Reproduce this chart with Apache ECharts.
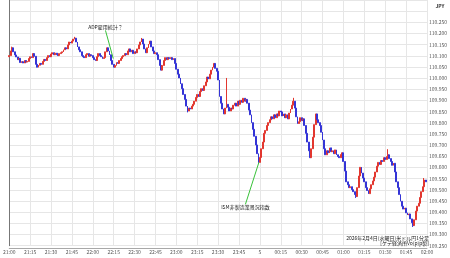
<!DOCTYPE html>
<html><head><meta charset="utf-8">
<script src="https://cdn.jsdelivr.net/npm/echarts@6/dist/echarts.min.js"></script>
<style>html,body{margin:0;padding:0;background:#fff}#c{width:450px;height:258px}</style>
</head><body><div id="c"></div>
<script>
// 1-minute USD/JPY candles, 21:00 -> 01:59 (minute index from 21:00)
const firstOpen = 110.096;
const closes = [
110.101,110.122,110.136,110.118,110.104,110.095,110.083,110.089,110.070,110.074,
110.068,110.079,110.072,110.075,110.088,110.096,110.092,110.110,110.098,110.062,
110.049,110.058,110.066,110.062,110.075,110.084,110.079,110.092,110.101,110.096,
110.108,110.114,110.105,110.112,110.105,110.101,110.110,110.114,110.118,110.127,
110.136,110.131,110.149,110.162,110.157,110.166,110.175,110.179,110.162,110.140,
110.127,110.118,110.101,110.096,110.092,110.105,110.110,110.098,110.105,110.101,
110.092,110.083,110.079,110.096,110.110,110.101,110.096,110.088,110.092,110.118,
110.136,110.122,110.105,110.079,110.062,110.049,110.057,110.070,110.066,110.079,
110.088,110.096,110.101,110.110,110.105,110.122,110.131,110.118,110.125,110.110,
110.118,110.114,110.131,110.149,110.162,110.175,110.153,110.131,110.114,110.136,
110.153,110.166,110.140,110.122,110.110,110.114,110.105,110.083,110.057,110.036,
110.057,110.079,110.092,110.083,110.092,110.088,110.092,110.083,110.088,110.066,
110.040,110.018,110.001,109.975,109.953,109.927,109.905,109.875,109.853,109.866,
109.862,109.875,109.883,109.897,109.914,109.927,109.918,109.940,109.953,109.945,
109.966,109.983,110.005,109.997,110.018,110.036,110.049,110.066,110.044,110.031,
109.992,109.918,109.888,109.862,109.840,109.866,109.883,109.870,109.853,109.866,
109.862,109.879,109.888,109.875,109.897,109.883,109.901,109.892,109.910,109.897,
109.905,109.888,109.857,109.836,109.801,109.771,109.740,109.701,109.662,109.623,
109.645,109.684,109.714,109.753,109.766,109.788,109.801,109.814,109.827,109.818,
109.836,109.823,109.840,109.831,109.853,109.849,109.831,109.840,109.823,109.836,
109.818,109.844,109.862,109.879,109.897,109.866,109.827,109.797,109.805,109.823,
109.810,109.818,109.788,109.753,109.714,109.675,109.644,109.684,109.736,109.792,
109.840,109.814,109.801,109.788,109.758,109.723,109.684,109.657,109.675,109.666,
109.688,109.671,109.675,109.662,109.679,109.657,109.649,109.644,109.658,109.666,
109.627,109.584,109.536,109.523,109.510,109.514,109.501,109.492,109.479,109.470,
109.510,109.562,109.601,109.575,109.553,109.536,109.510,109.497,109.483,109.505,
109.523,109.540,109.557,109.580,109.606,109.623,109.614,109.631,109.627,109.644,
109.636,109.649,109.657,109.640,109.627,109.610,109.619,109.580,109.536,109.510,
109.479,109.449,109.427,109.414,109.418,109.397,109.388,109.392,109.370,109.353,
109.340,109.366,109.405,109.427,109.440,109.466,109.492,109.514,109.544,109.536
];
// notable wick extremes (minute index -> price)
const wickHigh = {2:110.141, 47:110.185, 95:110.180, 156:110.001, 204:109.912, 272:109.682, 298:109.553};
const wickLow = {128:109.847, 179:109.616, 249:109.464, 290:109.334};

const xTickLabels = ['21:00','21:15','21:30','21:45','22:00','22:15','22:30','22:45','23:00','23:15','23:30','23:45','5','00:15','00:30','00:45','01:00','01:15','01:30','01:45','02:00'];
const yTickLabels = ['109.250','109.300','109.350','109.400','109.450','109.500','109.550','109.600','109.650','109.700','109.750','109.800','109.850','109.900','109.950','110.000','110.050','110.100','110.150','110.200','110.250'];

const annotations = [
  {text:'ADP雇用統計？', from:[69.1,110.214], to:[74.7,110.088], textPos:'above'},
  {text:'ISM非製造業景況指数', from:[169.6,109.435], to:[179.3,109.623], textPos:'below'}
];
const footerLines = ['2026年2月4日(水曜日)米ドル円1分足','[ケデ経済所Vo(p)p製]'];

const candles = closes.map((c, i) => {
  const o = i === 0 ? firstOpen : closes[i - 1];
  let hi = Math.max(o, c), lo = Math.min(o, c);
  if (wickHigh[i] && wickHigh[i] > hi) hi = wickHigh[i];
  if (wickLow[i] && wickLow[i] < lo) lo = wickLow[i];
  return [i, o, c, lo, hi];
});

const chart = echarts.init(document.getElementById('c'), null, {renderer:'canvas'});
const FONT = '"Noto Sans CJK JP","Noto Sans",sans-serif';
chart.setOption({
  animation: false,
  backgroundColor: '#fff',
  grid: {left: 1, right: 19, top: -7.3, bottom: 12.3, containLabel: false},
  xAxis: {
    type: 'value', min: 0, max: 300, interval: 15, offset: 2.3,
    axisLine: {show: true, lineStyle: {color: '#a8a8a8', width: 1}},
    axisTick: {show: false},
    splitLine: {show: true, lineStyle: {color: '#e6e6e6', width: 1}},
    axisLabel: {
      fontSize: 5, color: '#555', margin: 1.5, fontFamily: FONT,
      showMinLabel: true, showMaxLabel: true,
      formatter: v => xTickLabels[Math.round(v / 15)] || ''
    }
  },
  yAxis: {
    type: 'value', position: 'right', min: 109.25, max: 110.35, interval: 0.05,
    axisLine: {show: true, lineStyle: {color: '#777', width: 1}},
    axisTick: {show: false},
    splitLine: {show: true, lineStyle: {color: '#e6e6e6', width: 1}},
    axisLabel: {
      fontSize: 5, color: '#555', margin: 2, fontFamily: FONT,
      formatter: v => {
        const idx = Math.round((v - 109.25) / 0.05);
        return (idx >= 0 && idx < yTickLabels.length) ? yTickLabels[idx] : '';
      }
    }
  },
  series: [{
    type: 'candlestick',
    data: candles,
    encode: {x: 0, y: [1, 2, 3, 4]},
    barWidth: 1.4,
    itemStyle: {
      color: '#e2372f', color0: '#3434d6',
      borderColor: '#e2372f', borderColor0: '#3434d6', borderWidth: 1
    }
  }]
});

function drawOverlay() {
  const g = [];
  annotations.forEach(a => {
    const p1 = chart.convertToPixel({gridIndex: 0}, a.from);
    const p2 = chart.convertToPixel({gridIndex: 0}, a.to);
    g.push({type: 'line', shape: {x1: p1[0], y1: p1[1], x2: p2[0], y2: p2[1]},
      style: {stroke: '#39c23a', lineWidth: 1}, z: 100});
    g.push({type: 'text', x: p1[0], y: a.textPos === 'above' ? p1[1] - 0.5 : p1[1] + 0.5,
      style: {text: a.text, fontSize: 5, fill: '#222', fontFamily: FONT,
        textAlign: 'center', textVerticalAlign: a.textPos === 'above' ? 'bottom' : 'top'}, z: 100});
  });
  g.push({type: 'text', x: 440, y: 6.5,
    style: {text: 'JPY', fontSize: 5, fill: '#333', fontFamily: FONT, fontWeight: 'bold',
      textAlign: 'center', textVerticalAlign: 'middle'}, z: 100});
  footerLines.forEach((t, k) => {
    g.push({type: 'text', x: 429, y: 238 + k * 5.5,
      style: {text: t, fontSize: 5, fill: '#222', fontFamily: FONT,
        textAlign: 'right', textVerticalAlign: 'middle'}, z: 100});
  });
  chart.setOption({graphic: g});
}
drawOverlay();
</script>
</body></html>
